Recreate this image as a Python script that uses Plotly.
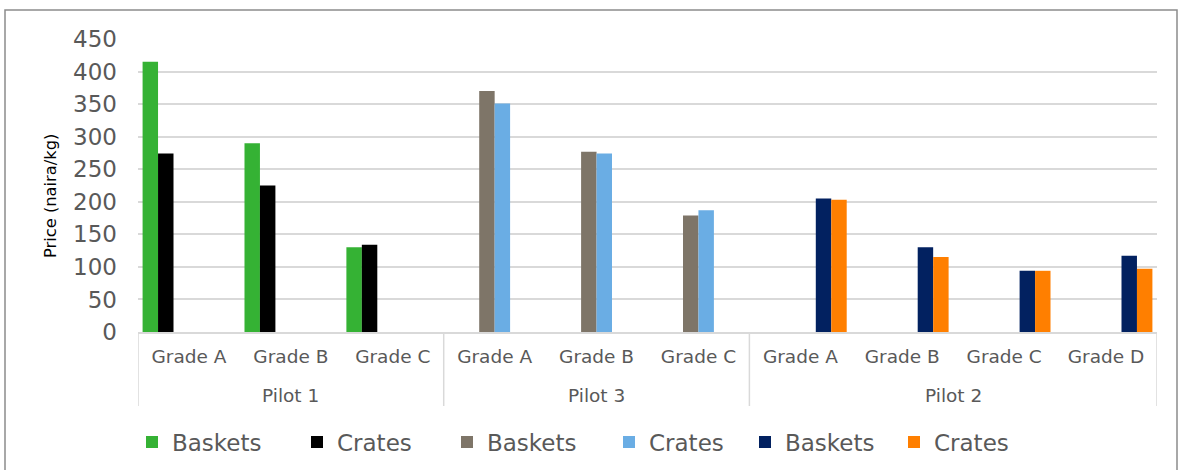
import plotly.graph_objects as go

# ---- data ----
grades = ["Grade A", "Grade B", "Grade C",
          "Grade A", "Grade B", "Grade C",
          "Grade A", "Grade B", "Grade C", "Grade D"]
pilots = ["Pilot 1", "Pilot 3", "Pilot 2"]
pilot_sizes = [3, 3, 4]

pilot1_baskets = [415, 290, 130]
pilot1_crates = [274, 225, 134]
pilot3_baskets = [370, 277, 179]
pilot3_crates = [351, 274, 187]
pilot2_baskets = [205, 130, 94, 117]
pilot2_crates = [203, 115, 94, 97]

series_names = ["Baskets", "Crates", "Baskets", "Crates", "Baskets", "Crates"]
series_colors = ["#35B234", "#000000", "#7E7568", "#6AADE4", "#022160", "#FF7F00"]

# ---- build ----
x_idx = list(range(len(grades)))
starts = [0, 3, 6]


def pad(vals, start):
    out = [None] * len(grades)
    for i, v in enumerate(vals):
        out[start + i] = v
    return out


series_vals = [
    pad(pilot1_baskets, starts[0]), pad(pilot1_crates, starts[0]),
    pad(pilot3_baskets, starts[1]), pad(pilot3_crates, starts[1]),
    pad(pilot2_baskets, starts[2]), pad(pilot2_crates, starts[2]),
]

legend_ids = ["legend"] + ["legend%d" % i for i in range(2, 7)]

fig = go.Figure()
for name, col, vals, lid in zip(series_names, series_colors, series_vals, legend_ids):
    fig.add_trace(go.Bar(x=x_idx, y=vals, name=name, marker_color=col,
                         marker_line_width=0, legend=lid))

FONT = "DejaVu Sans"
TXT = "#595959"
GRID = "#D9D9D9"

W, H = 1178, 470
ml, mr, mt, mb = 138, 21, 39, 138
pw, ph = W - ml - mr, H - mt - mb


def px_to_paper_x(px):
    return (px - ml) / pw


def px_to_paper_y(py):
    return (H - mb - py) / ph


shapes = []
# group dividers below axis
bounds = [-0.5]
acc = -0.5
for s in pilot_sizes:
    acc += s
    bounds.append(acc)
for b in bounds:
    shapes.append(dict(type="line", xref="x", yref="paper", x0=b, x1=b,
                       y0=0, y1=px_to_paper_y(406),
                       line=dict(color=GRID, width=1.5)))
# outer chart border
shapes.append(dict(type="rect", xref="paper", yref="paper",
                   x0=px_to_paper_x(5), x1=px_to_paper_x(1177),
                   y0=px_to_paper_y(478), y1=px_to_paper_y(10),
                   line=dict(color="#8C8C8C", width=1.5),
                   fillcolor="rgba(0,0,0,0)", layer="below"))

annotations = []
acc = -0.5
for p, s in zip(pilots, pilot_sizes):
    annotations.append(dict(x=acc + s / 2, y=px_to_paper_y(395), xref="x",
                            yref="paper", text=p, showarrow=False,
                            xanchor="center", yanchor="middle",
                            font=dict(family=FONT, size=18.5, color=TXT)))
    acc += s
annotations.append(dict(x=px_to_paper_x(50), y=px_to_paper_y(196),
                        xref="paper", yref="paper", text="Price (naira/kg)",
                        showarrow=False, textangle=-90,
                        xanchor="center", yanchor="middle",
                        font=dict(family=FONT, size=16.3, color="#000000")))

layout_kw = {}
legend_square_left = [147, 312, 462, 624, 760, 909]
for lid, sq in zip(legend_ids, legend_square_left):
    layout_kw[lid] = dict(orientation="h", xref="container", yref="container",
                          x=(sq - 15) / W, xanchor="left",
                          y=1 - 442 / H, yanchor="middle",
                          font=dict(family=FONT, size=23, color=TXT),
                          bgcolor="rgba(0,0,0,0)")

fig.update_layout(
    width=W, height=H,
    margin=dict(l=ml, r=mr, t=mt, b=mb, pad=0),
    paper_bgcolor="white", plot_bgcolor="white",
    barmode="group", bargap=0.09, bargroupgap=0,
    font=dict(family=FONT, color=TXT),
    showlegend=True,
    shapes=shapes,
    annotations=annotations,
    xaxis=dict(range=[-0.5, len(grades) - 0.5], tickmode="array",
               tickvals=x_idx, ticktext=grades, ticks="",
               tickfont=dict(family=FONT, size=18.5, color=TXT),
               ticklabelstandoff=7, automargin=False,
               showline=True, linecolor=GRID, linewidth=1.5,
               showgrid=False, zeroline=False, fixedrange=True),
    yaxis=dict(range=[0, 450], dtick=50, tick0=0, ticks="",
               tickfont=dict(family=FONT, size=23, color=TXT),
               ticklabelstandoff=20, automargin=False,
               showgrid=True, gridcolor=GRID, gridwidth=1.5,
               zeroline=False, showline=False, fixedrange=True),
    **layout_kw,
)

fig.write_html("out.html")
